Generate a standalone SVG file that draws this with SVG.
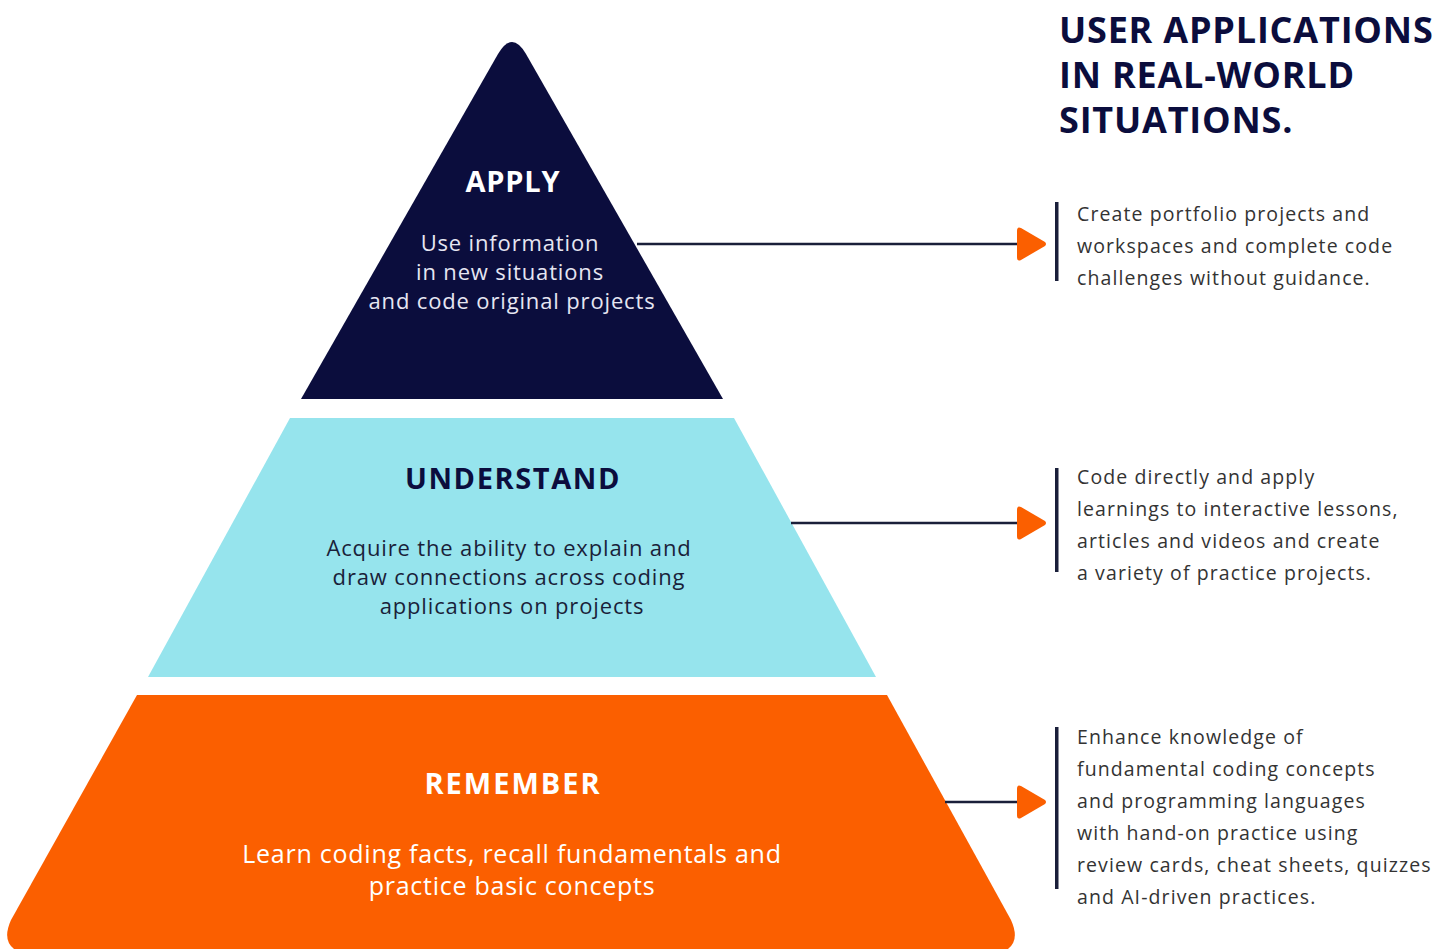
<svg xmlns="http://www.w3.org/2000/svg" width="1452" height="949" viewBox="0 0 1452 949">
<defs>
<style>
.h{font-family:"Open Sans","Lato",sans-serif;font-weight:700;text-anchor:middle;letter-spacing:1.6px;}
.s{font-family:"Open Sans","Lato",sans-serif;font-weight:400;text-anchor:middle;letter-spacing:0.85px;}
.d{font-family:"Open Sans","Lato",sans-serif;font-size:19.5px;fill:#333333;letter-spacing:1.1px;}
.title{font-family:"Open Sans","Lato",sans-serif;font-weight:700;font-size:36px;fill:#0b0d3d;letter-spacing:0.8px;}
.conn{stroke:#1a1f3a;stroke-width:2.5;fill:none;}
.bar{fill:#1a1f3a;}
</style>
<marker id="arr" viewBox="0 0 30 36" refX="1" refY="18" markerWidth="30" markerHeight="36" markerUnits="userSpaceOnUse" orient="auto">
<path d="M4 2 Q0 0 0 5 L0 31 Q0 36 4 34 L28 20 Q30 18 28 16 Z" fill="#fb5f00"/>
</marker>
</defs>
<rect width="1452" height="949" fill="#ffffff"/>
<g id="title">
<text class="title" x="1059" y="43">USER APPLICATIONS</text>
<text class="title" x="1059" y="88">IN REAL-WORLD</text>
<text class="title" x="1059" y="133">SITUATIONS.</text>
</g>
<g id="apply">
<path d="M301 399 L498 54 Q512 30 526 54 L723 399 Z" fill="#0b0d3d"/>
<text class="h" x="513" y="192" font-size="29" fill="#ffffff" style="letter-spacing:0.8px">APPLY</text>
<text class="s" font-size="22" fill="#e6e6f2"><tspan x="510" y="251">Use information</tspan><tspan x="510" y="280">in new situations</tspan><tspan x="512" y="309">and code original projects</tspan></text>
</g>
<g id="understand">
<path d="M290 418 L734 418 L876 677 L148 677 Z" fill="#96e4ed"/>
<text class="h" x="513" y="489" font-size="29" fill="#0b0d3d">UNDERSTAND</text>
<text class="s" font-size="22" fill="#1a1f3a"><tspan x="509" y="556">Acquire the ability to explain and</tspan><tspan x="509" y="585">draw connections across coding</tspan><tspan x="512" y="614">applications on projects</tspan></text>
</g>
<g id="remember">
<path d="M137 695 L887 695 L1011 920 Q1020 940 1008 949 L14 949 Q2 940 11 920 Z" fill="#fb5f00"/>
<text class="h" x="513" y="794" font-size="29" fill="#ffffff" style="letter-spacing:2px">REMEMBER</text>
<text class="s" font-size="25" fill="#ffffff" style="letter-spacing:0.75px"><tspan x="512" y="863">Learn coding facts, recall fundamentals and</tspan><tspan x="512" y="895">practice basic concepts</tspan></text>
</g>
<g id="connectors">
<line class="conn" x1="637" y1="244" x2="1018" y2="244" marker-end="url(#arr)"/>
<line class="conn" x1="791" y1="523" x2="1018" y2="523" marker-end="url(#arr)"/>
<line class="conn" x1="945" y1="802" x2="1018" y2="802" marker-end="url(#arr)"/>
</g>
<g id="desc-apply">
<rect class="bar" x="1055" y="202" width="3.5" height="79"/>
<text class="d"><tspan x="1077" y="221">Create portfolio projects and</tspan><tspan x="1077" y="253">workspaces and complete code</tspan><tspan x="1077" y="285">challenges without guidance.</tspan></text>
</g>
<g id="desc-understand">
<rect class="bar" x="1055" y="468" width="3.5" height="104"/>
<text class="d"><tspan x="1077" y="484">Code directly and apply</tspan><tspan x="1077" y="516">learnings to interactive lessons,</tspan><tspan x="1077" y="548">articles and videos and create</tspan><tspan x="1077" y="580">a variety of practice projects.</tspan></text>
</g>
<g id="desc-remember">
<rect class="bar" x="1055" y="727" width="3.5" height="162"/>
<text class="d"><tspan x="1077" y="744">Enhance knowledge of</tspan><tspan x="1077" y="776">fundamental coding concepts</tspan><tspan x="1077" y="808">and programming languages</tspan><tspan x="1077" y="840">with hand-on practice using</tspan><tspan x="1077" y="872">review cards, cheat sheets, quizzes</tspan><tspan x="1077" y="904">and AI-driven practices.</tspan></text>
</g>
</svg>
